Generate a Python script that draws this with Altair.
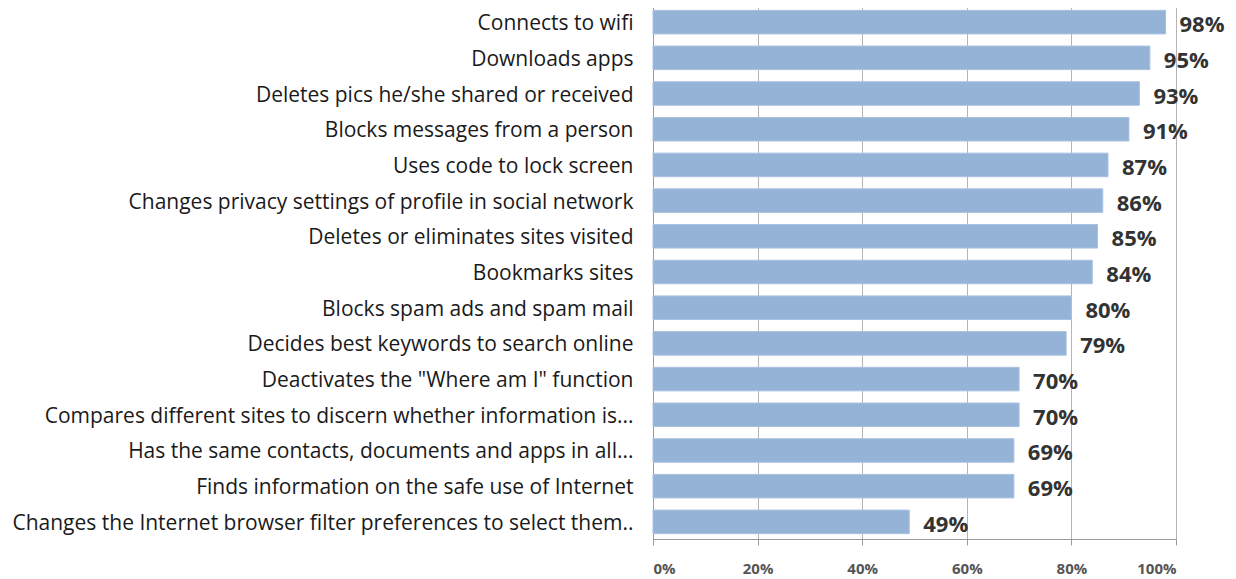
import altair as alt
import pandas as pd

categories = [
    "Connects to wifi",
    "Downloads apps",
    "Deletes pics he/she shared or received",
    "Blocks messages from a person",
    "Uses code to lock screen",
    "Changes privacy settings of profile in social network",
    "Deletes or eliminates sites visited",
    "Bookmarks sites",
    "Blocks spam ads and spam mail",
    "Decides best keywords to search online",
    "Deactivates the \"Where am I\" function",
    "Compares different sites to discern whether information is...",
    "Has the same contacts, documents and apps in all...",
    "Finds information on the safe use of Internet",
    "Changes the Internet browser filter preferences to select them..",
]
values = [0.98, 0.95, 0.93, 0.91, 0.87, 0.86, 0.85, 0.84, 0.80, 0.79, 0.70, 0.70, 0.69, 0.69, 0.49]
x_ticks = [0, 0.2, 0.4, 0.6, 0.8, 1.0]

df = pd.DataFrame({"item": categories, "value": values})

FONT = "Open Sans"

y_enc = alt.Y(
    "item:N",
    sort=categories,
    scale=alt.Scale(paddingInner=0.34, paddingOuter=0.15),
    axis=alt.Axis(
        title=None,
        labelFont=FONT,
        labelFontSize=21,
        labelColor="#1a1a1a",
        labelLimit=700,
        labelPadding=20,
        labelOffset=2,
        ticks=False,
        domain=True,
        domainColor="#9a9a9a",
        grid=False,
    ),
)

x_enc = alt.X(
    "value:Q",
    scale=alt.Scale(domain=[0, 1], nice=False),
    axis=alt.Axis(
        title=None,
        values=x_ticks,
        format=".0%",
        labelFont=FONT,
        labelFontSize=15,
        labelFontWeight="bold",
        labelColor="#555555",
        labelPadding=16,
        tickSize=6,
        tickColor="#9a9a9a",
        domainColor="#9a9a9a",
        gridColor="#b5b5b5",
        grid=True,
    ),
)

bars = alt.Chart(df).mark_bar(color="#95B3D7", stroke="#A9C1DF", strokeWidth=1).encode(
    x=x_enc, y=y_enc
)

text = alt.Chart(df).mark_text(
    align="left", baseline="middle", dx=14, dy=3,
    font=FONT, fontSize=22, fontWeight="bold", color="#333333",
).encode(
    x=alt.X("value:Q"),
    y=alt.Y("item:N", sort=categories),
    text=alt.Text("value:Q", format=".0%"),
)

chart = (
    alt.layer(bars, text)
    .properties(
        width=523,
        height=534,
        autosize=alt.AutoSizeParams(type="none"),
        padding={"left": 645, "top": -3, "right": 52, "bottom": 38},
    )
    .configure_view(stroke=None)
    .configure(background="white")
)

chart.save("out.html", embed_options={"renderer": "svg", "actions": False})
